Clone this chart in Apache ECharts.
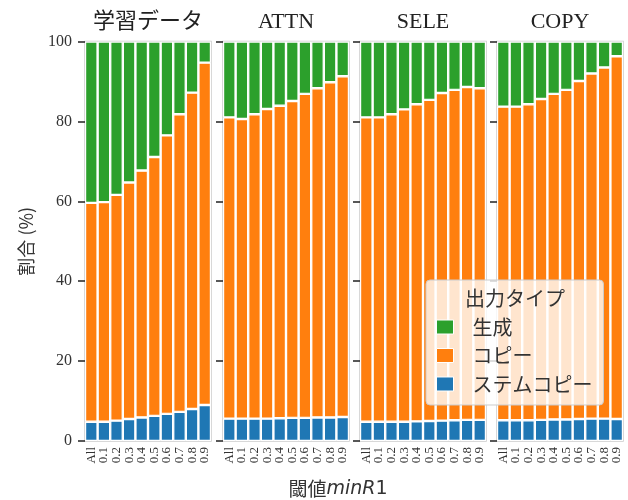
<!DOCTYPE html>
<html>
<head>
<meta charset="utf-8">
<script src="https://cdn.jsdelivr.net/npm/echarts@6/dist/echarts.min.js"></script>
<style>
  html, body { margin: 0; padding: 0; background: #fff; }
  #chart { width: 628px; height: 500px; }
</style>
</head>
<body>
<div id="chart"></div>
<script>
// Threshold categories on each panel's x axis
const thresholds = ['All', '0.1', '0.2', '0.3', '0.4', '0.5', '0.6', '0.7', '0.8', '0.9'];
const panelTitles = ['学習データ', 'ATTN', 'SELE', 'COPY'];
const yTicks = [0, 20, 40, 60, 80, 100];

// Output-type shares (%) per panel
const train_stem = [4.8, 4.8, 5.1, 5.5, 5.9, 6.3, 6.8, 7.3, 8.0, 9.0];
const train_copy = [54.8, 55.0, 56.5, 59.2, 61.8, 64.8, 69.7, 74.5, 79.2, 85.7];
const train_gen  = [40.4, 40.2, 38.4, 35.3, 32.3, 28.9, 23.5, 18.2, 12.8, 5.3];

const attn_stem = [5.6, 5.6, 5.6, 5.6, 5.7, 5.8, 5.8, 5.9, 5.9, 6.0];
const attn_copy = [75.4, 75.0, 76.2, 77.5, 78.2, 79.3, 81.1, 82.4, 83.9, 85.3];
const attn_gen  = [19.0, 19.4, 18.2, 16.9, 16.1, 14.9, 13.1, 11.7, 10.2, 8.7];

const sele_stem = [4.8, 4.8, 4.8, 4.8, 4.9, 5.0, 5.1, 5.2, 5.3, 5.3];
const sele_copy = [76.2, 76.2, 77.0, 78.2, 79.4, 80.4, 82.0, 82.7, 83.3, 83.0];
const sele_gen  = [19.0, 19.0, 18.2, 17.0, 15.7, 14.6, 12.9, 12.1, 11.4, 11.7];

const copy_stem = [5.2, 5.2, 5.2, 5.3, 5.4, 5.4, 5.5, 5.6, 5.6, 5.5];
const copy_copy = [78.5, 78.5, 79.1, 80.3, 81.5, 82.5, 84.6, 86.4, 87.9, 90.8];
const copy_gen  = [16.3, 16.3, 15.7, 14.4, 13.1, 12.1, 9.9, 8.0, 6.5, 3.7];

const panels = [
  { stem: train_stem, copy: train_copy, gen: train_gen },
  { stem: attn_stem, copy: attn_copy, gen: attn_gen },
  { stem: sele_stem, copy: sele_copy, gen: sele_gen },
  { stem: copy_stem, copy: copy_copy, gen: copy_gen }
];

const NAME_GEN = '生成', NAME_COPY = 'コピー', NAME_STEM = 'ステムコピー';
const COLORS = { gen: '#2ca02c', copy: '#ff7f0e', stem: '#1f77b4' };

const SERIF = '"Liberation Serif", "Noto Sans CJK JP", serif';
const JP = '"Noto Sans CJK JP", sans-serif';

const gridLefts = [85, 223, 360, 497];
const gridWidth = 126;
const gridTop = 41.5;
const gridHeight = 399.5;

const grids = [], xAxes = [], yAxes = [], series = [], panelHeads = [];

panels.forEach((p, i) => {
  grids.push({
    left: gridLefts[i], top: gridTop, width: gridWidth, height: gridHeight,
    show: true, borderColor: '#cccccc', borderWidth: 1.5, backgroundColor: 'transparent'
  });
  xAxes.push({
    type: 'category', gridIndex: i, data: thresholds,
    axisLine: { show: false }, axisTick: { show: false },
    axisLabel: {
      interval: 0, rotate: 90, margin: 6,
      fontFamily: SERIF, fontSize: 13, color: '#333'
    }
  });
  yAxes.push({
    type: 'value', gridIndex: i, min: 0, max: 100, interval: 20,
    axisLine: { show: false },
    axisTick: { show: true, length: 7, lineStyle: { color: '#222', width: 1.5 } },
    splitLine: { show: false },
    axisLabel: {
      show: i === 0, margin: 13,
      fontFamily: SERIF, fontSize: 16, color: '#333',
      customValues: yTicks
    },
    name: i === 0 ? '割合 (%)' : '',
    nameLocation: 'middle', nameGap: 50,
    nameTextStyle: { fontFamily: JP, fontSize: 18, color: '#333' }
  });
  const stack = 'panel' + i;
  const common = {
    type: 'bar', xAxisIndex: i, yAxisIndex: i, stack: stack,
    barCategoryGap: '0%',
    emphasis: { disabled: true }
  };
  series.push(Object.assign({}, common, {
    name: NAME_STEM, data: p.stem,
    itemStyle: { color: COLORS.stem, borderColor: '#fff', borderWidth: 1.2 }
  }));
  series.push(Object.assign({}, common, {
    name: NAME_COPY, data: p.copy,
    itemStyle: { color: COLORS.copy, borderColor: '#fff', borderWidth: 1.2 }
  }));
  series.push(Object.assign({}, common, {
    name: NAME_GEN, data: p.gen,
    itemStyle: { color: COLORS.gen, borderColor: '#fff', borderWidth: 1.2 }
  }));
  // Panel heading centred above its grid
  panelHeads.push({
    type: 'text', z: 100,
    x: gridLefts[i] + gridWidth / 2, y: 22,
    style: {
      text: panelTitles[i], fontFamily: SERIF, fontSize: 22, fill: '#222',
      align: 'center', verticalAlign: 'middle'
    }
  });
});

const chart = echarts.init(document.getElementById('chart'), null, { renderer: 'canvas' });
chart.setOption({
  animation: false,
  backgroundColor: '#fff',
  grid: grids,
  xAxis: xAxes,
  yAxis: yAxes,
  series: series,
  legend: {
    data: [NAME_GEN, NAME_COPY, NAME_STEM],
    orient: 'vertical',
    left: 426, top: 280,
    padding: [37, 11, 11, 10],
    itemWidth: 17, itemHeight: 14, itemGap: 8.5,
    icon: 'rect',
    itemStyle: { borderColor: '#fff', borderWidth: 1 },
    backgroundColor: 'rgba(255,255,255,0.8)',
    borderColor: '#cccccc', borderWidth: 1, borderRadius: 4,
    selectedMode: false,
    textStyle: { fontFamily: JP, fontSize: 20, color: '#333', padding: [0, 0, 0, 14] }
  },
  graphic: panelHeads.concat([
    {
      type: 'text', z: 100, x: 515, y: 298,
      style: {
        text: '出力タイプ', fontFamily: JP, fontSize: 20, fill: '#333',
        align: 'center', verticalAlign: 'middle'
      }
    },
    {
      type: 'text', z: 100, x: 338, y: 489,
      style: {
        text: '{a|閾値}{b|minR}{c|1}',
        align: 'center', verticalAlign: 'middle',
        rich: {
          a: { fontFamily: JP, fontSize: 19, fill: '#333' },
          b: { fontFamily: '"DejaVu Sans"', fontStyle: 'italic', fontSize: 19, fill: '#333' },
          c: { fontFamily: '"DejaVu Sans"', fontSize: 19, fill: '#333' }
        }
      }
    }
  ])
});
</script>
</body>
</html>
